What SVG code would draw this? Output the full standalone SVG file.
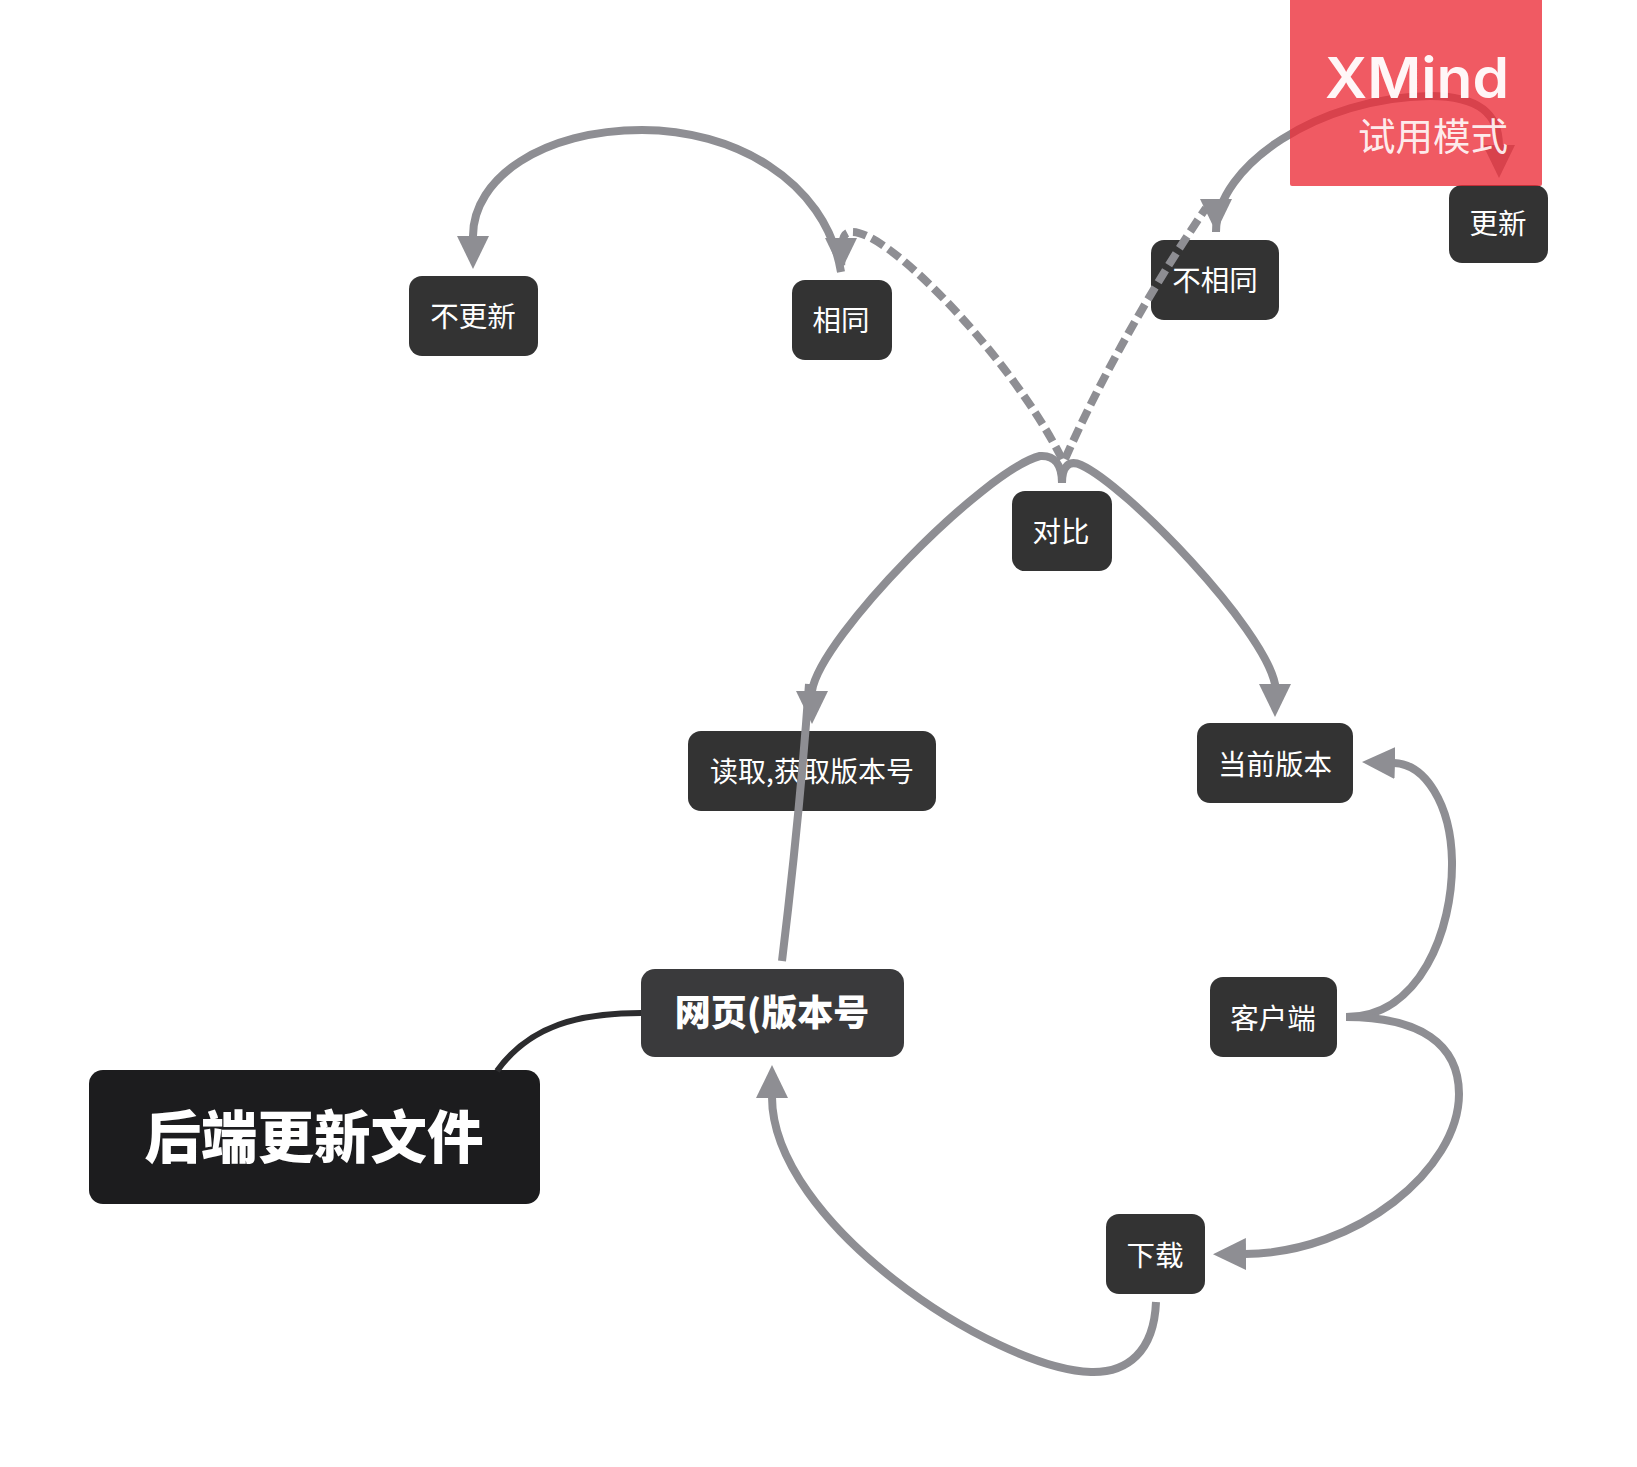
<svg xmlns="http://www.w3.org/2000/svg" width="1637" height="1467" viewBox="0 0 1637 1467">
<defs>
<marker id="arrow" markerUnits="userSpaceOnUse" markerWidth="36" markerHeight="36" refX="1" refY="16" orient="auto"><path d="M0 0L33 16L0 32Z" fill="#8e8e93"/></marker>
</defs>
<style>
text{font-family:"Noto Sans CJK SC","Noto Sans",sans-serif;fill:#fff;text-anchor:middle}
.n rect{fill:#333}
.n text{font-size:28.5px}
.c{fill:none;stroke:#8e8e93;stroke-width:8}
.a{marker-end:url(#arrow)}
.d{stroke-dasharray:14 6}
</style>
<rect width="1637" height="1467" fill="#fff"/>
<g id="n-root" class="n"><rect x="89" y="1070" width="451" height="134" rx="14" style="fill:#1c1c1e"/><text x="314" y="1158" style="font-size:56.5px;font-weight:900">后端更新文件</text></g>
<g id="n-web" class="n"><rect x="641" y="969" width="263" height="88" rx="14" style="fill:#3a3a3c"/><text x="772" y="1026" style="font-size:36px;font-weight:900">网页(版本号</text></g>
<g id="n-read" class="n"><rect x="688" y="731" width="248" height="80" rx="13"/><text x="812" y="782" style="font-size:28px">读取,获取版本号</text></g>
<g id="n-current" class="n"><rect x="1197" y="723" width="156" height="80" rx="13"/><text x="1275" y="775">当前版本</text></g>
<g id="n-client" class="n"><rect x="1210" y="977" width="127" height="80" rx="13"/><text x="1273" y="1029">客户端</text></g>
<g id="n-download" class="n"><rect x="1106" y="1214" width="99" height="80" rx="13"/><text x="1155" y="1266">下载</text></g>
<g id="n-compare" class="n"><rect x="1012" y="491" width="100" height="80" rx="13"/><text x="1061" y="542">对比</text></g>
<g id="n-diff" class="n"><rect x="1151" y="240" width="128" height="80" rx="13"/><text x="1215" y="291">不相同</text></g>
<g id="n-update" class="n"><rect x="1449" y="185" width="99" height="78" rx="13"/><text x="1498" y="234">更新</text></g>
<g id="n-same" class="n"><rect x="792" y="280" width="100" height="80" rx="13"/><text x="841" y="331">相同</text></g>
<g id="n-noupdate" class="n"><rect x="409" y="276" width="129" height="80" rx="13"/><text x="473" y="327">不更新</text></g>
<g id="connectors">
<path class="c" d="M497 1071C530 1025 580 1013 641 1013" style="stroke:#2c2c2e;stroke-width:6"/>
<path class="c" d="M782 961C791 887 802 783 809 684"/>
<path class="c a" d="M1062 483C1062 465 1055 455 1040 456C985 470 820 637 812 691V692"/>
<path class="c a" d="M1062 483C1062 465 1070 460 1081 465C1127 486 1263 627 1275 684V685"/>
<path class="c d" d="M1062 459C1013 360 888 229 851 232C840 233 842 245 841 271"/>
<path class="c d" d="M1065 459C1100 380 1150 290 1206 208"/>
<path class="c" d="M841 272C825 178 731 130 642 130C543 130 473 178 473 236"/>
<path class="c a" d="M841 238V239"/>
<path class="c a" d="M473 236V237"/>
<path class="c" d="M1216 232C1216 165 1320 97 1430 96C1480 96 1499 115 1499 146"/>
<path class="c a" d="M1216 199V200"/>
<path class="c a" d="M1499 145V146"/>
<path class="c a" d="M1346 1017C1420 1017 1453 930 1452 861C1451 804 1425 764 1394 763"/>
<path class="c a" d="M1346 1017C1420 1017 1459 1044 1459 1094C1459 1169 1357 1253 1245 1254"/>
<path class="c a" d="M1156 1302C1154 1352 1127 1373 1091 1372C992 1368 772 1222 772 1097"/>
</g>
<g id="watermark">
<rect x="1290" y="-4" width="252" height="190" rx="2" fill="#ec2c38" fill-opacity=".785"/>
<text x="1509" y="98" textLength="184" lengthAdjust="spacingAndGlyphs" style="font-size:56px;font-weight:600;text-anchor:end;font-family:Inter,'Open Sans',sans-serif" fill-opacity=".95">XMind</text>
<text x="1508" y="150" style="font-size:37.5px;text-anchor:end" fill-opacity=".9">试用模式</text>
</g>
</svg>
